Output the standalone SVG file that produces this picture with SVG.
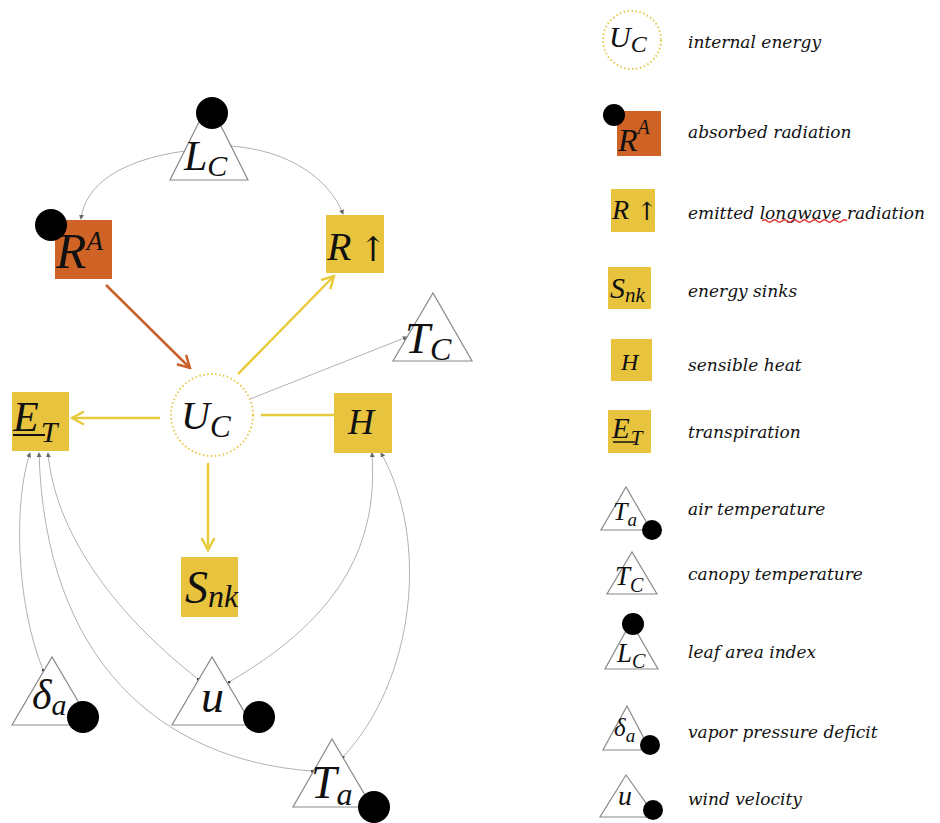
<svg xmlns="http://www.w3.org/2000/svg" width="940" height="823" viewBox="0 0 940 823">
<defs>
<style>
.m{font-style:italic;fill:#111}
.sym{font-style:normal;fill:#111}
.lg{font-style:italic;font-size:17px;fill:#111}
.tri{fill:#fff;stroke:#8a8a8a;stroke-width:1.2}
.dot{fill:#000}
.yb{fill:#E8C33E}
.ob{fill:#CF6325}
.uc{fill:#fff;stroke:#E8C84A;stroke-width:2;stroke-dasharray:1.5 2.5}
.gl{fill:none;stroke:#a8a8a8;stroke-width:0.9}
.yl{fill:none;stroke:#E8CB3C;stroke-width:2.5}
.ol{fill:none;stroke:#C8612A;stroke-width:2.5}
</style>
<marker id="ay" viewBox="0 0 16 16" refX="14" refY="8" markerWidth="16" markerHeight="16" markerUnits="userSpaceOnUse" orient="auto"><path d="M2,1.5 L14,8 L2,14.5" fill="none" stroke="#E8CB3C" stroke-width="2.5"/></marker>
<marker id="ao" viewBox="0 0 16 16" refX="14" refY="8" markerWidth="16" markerHeight="16" markerUnits="userSpaceOnUse" orient="auto"><path d="M2,1.5 L14,8 L2,14.5" fill="none" stroke="#C8612A" stroke-width="2.5"/></marker>
<marker id="ag" viewBox="0 0 6 6" refX="5" refY="3" markerWidth="5" markerHeight="5" markerUnits="userSpaceOnUse" orient="auto"><path d="M0,0 L6,3 L0,6 Z" fill="#666"/></marker>
<marker id="sg" viewBox="0 0 4 4" refX="2" refY="2" markerWidth="3" markerHeight="3" markerUnits="userSpaceOnUse"><circle cx="2" cy="2" r="2" fill="#444"/></marker>
</defs>
<rect width="940" height="823" fill="#fff"/>

<g id="connectors">
<path class="gl" d="M185,151 C120,160 85,185 81,219" marker-start="url(#sg)" marker-end="url(#ag)"/>
<path class="gl" d="M230,146 C290,150 330,180 343,214" marker-start="url(#sg)" marker-end="url(#ag)"/>
<path class="gl" d="M250,399 L407,337" marker-end="url(#ag)"/>
<path class="gl" d="M43,670 C15,600 14,500 30,453" marker-start="url(#sg)" marker-end="url(#ag)"/>
<path class="gl" d="M312,771 C160,760 45,660 39,453" marker-start="url(#sg)" marker-end="url(#ag)"/>
<path class="gl" d="M198,679 C110,610 55,530 48,453" marker-start="url(#sg)" marker-end="url(#ag)"/>
<path class="gl" d="M229,682 C345,615 378,540 372,453" marker-start="url(#sg)" marker-end="url(#ag)"/>
<path class="gl" d="M343,757 C415,680 430,540 381,453" marker-start="url(#sg)" marker-end="url(#ag)"/>
<path class="ol" d="M106,285 L190,368" marker-end="url(#ao)"/>
<path class="yl" d="M160,418 L72,418" marker-end="url(#ay)"/>
<path class="yl" d="M238,374 L334,276" marker-end="url(#ay)"/>
<path class="yl" d="M261,415 L334,415"/>
<path class="yl" d="M208,463 L208,550" marker-end="url(#ay)"/>
</g>

<g font-family="Liberation Serif, DejaVu Serif, serif">
<g id="LC">
<polygon class="tri" points="170,180 248,180 209,102"/>
<text class="m" x="184" y="170" font-size="42">L<tspan font-size="30" dy="6">C</tspan></text>
<circle class="dot" cx="212" cy="113" r="16"/>
</g>
<g id="RA">
<rect class="ob" x="55" y="220" width="57" height="59"/>
<text class="m" x="56" y="268" font-size="50">R<tspan font-size="27" dy="-18">A</tspan></text>
<circle class="dot" cx="51" cy="225" r="16"/>
</g>
<g id="Rup">
<rect class="yb" x="326" y="215" width="58" height="58"/>
<text class="m" x="327" y="260" font-size="40">R</text>
<text class="sym" x="373" y="261" font-size="34" text-anchor="middle" font-family="DejaVu Serif, serif">↑</text>
</g>
<g id="UC">
<circle class="uc" cx="212" cy="415" r="41"/>
<text class="m" x="181" y="429" font-size="40">U<tspan font-size="31" dy="8">C</tspan></text>
</g>
<g id="ET">
<rect class="yb" x="12" y="392" width="57" height="59"/>
<text class="m" x="13" y="431" font-size="42">E<tspan font-size="30" dx="2" dy="11">T</tspan></text>
<line x1="13" y1="435" x2="45" y2="435" stroke="#111" stroke-width="2"/>
</g>
<g id="H">
<rect class="yb" x="334" y="393" width="58" height="60"/>
<text class="m" x="348" y="434" font-size="36">H</text>
</g>
<g id="TC">
<polygon class="tri" points="393,361 472,361 433,293"/>
<text class="m" x="405" y="353" font-size="45">T<tspan font-size="32" dy="7">C</tspan></text>
</g>
<g id="Snk">
<rect class="yb" x="181" y="557" width="57" height="60"/>
<text class="m" x="185" y="603" font-size="46">S<tspan font-size="32" dy="4">nk</tspan></text>
</g>
<g id="deltaa">
<polygon class="tri" points="12,725 92,725 52,657"/>
<text class="m" x="32" y="709" font-size="42">δ<tspan font-size="30" dy="6">a</tspan></text>
<circle class="dot" cx="83" cy="717" r="16"/>
</g>
<g id="u">
<polygon class="tri" points="172,725 252,725 212,657"/>
<text class="m" x="201" y="712" font-size="46">u</text>
<circle class="dot" cx="259" cy="717" r="16"/>
</g>
<g id="Ta">
<polygon class="tri" points="293,807 372,807 332,739"/>
<text class="m" x="311" y="798" font-size="46">T<tspan font-size="32" dy="7">a</tspan></text>
<circle class="dot" cx="374" cy="807" r="16"/>
</g>

<g id="legend">
<g id="lg-UC">
<circle class="uc" cx="632" cy="40" r="29" stroke-width="1.5"/>
<text class="m" x="609" y="47" font-size="30">U<tspan font-size="24" dy="5">C</tspan></text>
<text class="lg" x="688" y="48" font-family="DejaVu Serif, serif">internal energy</text>
</g>
<g id="lg-RA">
<rect class="ob" x="617" y="111" width="44" height="45"/>
<text class="m" x="618" y="151" font-size="32">R<tspan font-size="20" dy="-17">A</tspan></text>
<circle class="dot" cx="614" cy="115" r="11"/>
<text class="lg" x="688" y="138" font-family="DejaVu Serif, serif">absorbed radiation</text>
</g>
<g id="lg-Rup">
<rect class="yb" x="611" y="189" width="44" height="43"/>
<text class="m" x="612" y="219" font-size="28">R</text>
<text class="sym" x="647" y="220" font-size="25" text-anchor="middle" font-family="DejaVu Serif, serif">↑</text>
<text class="lg" x="688" y="219" font-family="DejaVu Serif, serif">emitted longwave radiation</text>
<path d="M762,221 q2.5,-2.5 5,0 t5,0 t5,0 t5,0 t5,0 t5,0 t5,0 t5,0 t5,0 t5,0 t5,0 t5,0 t5,0 t5,0 t5,0 t5,0 t5,0" fill="none" stroke="#e03030" stroke-width="1.3"/>
</g>
<g id="lg-Snk">
<rect class="yb" x="608" y="267" width="43" height="42"/>
<text class="m" x="610" y="298" font-size="30">S<tspan font-size="21" dy="4">nk</tspan></text>
<text class="lg" x="688" y="297" font-family="DejaVu Serif, serif">energy sinks</text>
</g>
<g id="lg-H">
<rect class="yb" x="611" y="339" width="41" height="42"/>
<text class="m" x="621" y="370" font-size="24">H</text>
<text class="lg" x="688" y="371" font-family="DejaVu Serif, serif">sensible heat</text>
</g>
<g id="lg-ET">
<rect class="yb" x="608" y="410" width="43" height="43"/>
<text class="m" x="612" y="438" font-size="29">E<tspan font-size="21" dx="1" dy="7">T</tspan></text>
<line x1="613" y1="442" x2="635" y2="442" stroke="#111" stroke-width="1.5"/>
<text class="lg" x="688" y="438" font-family="DejaVu Serif, serif">transpiration</text>
</g>
<g id="lg-Ta">
<polygon class="tri" points="601,530 651,530 626,487" stroke-width="1"/>
<text class="m" x="613" y="520" font-size="26">T<tspan font-size="19" dy="6">a</tspan></text>
<circle class="dot" cx="652" cy="530" r="10"/>
<text class="lg" x="688" y="515" font-family="DejaVu Serif, serif">air temperature</text>
</g>
<g id="lg-TC">
<polygon class="tri" points="607,594 657,594 632,552" stroke-width="1"/>
<text class="m" x="615" y="585" font-size="27">T<tspan font-size="20" dy="7">C</tspan></text>
<text class="lg" x="688" y="580" font-family="DejaVu Serif, serif">canopy temperature</text>
</g>
<g id="lg-LC">
<polygon class="tri" points="605,669 658,669 631,622" stroke-width="1"/>
<text class="m" x="617" y="662" font-size="27">L<tspan font-size="20" dy="6">C</tspan></text>
<circle class="dot" cx="633" cy="624" r="11"/>
<text class="lg" x="688" y="658" font-family="DejaVu Serif, serif">leaf area index</text>
</g>
<g id="lg-da">
<polygon class="tri" points="603,750 650,750 627,706" stroke-width="1"/>
<text class="m" x="614" y="736" font-size="25">δ<tspan font-size="19" dy="6">a</tspan></text>
<circle class="dot" cx="650" cy="745" r="10"/>
<text class="lg" x="688" y="738" font-family="DejaVu Serif, serif">vapor pressure deficit</text>
</g>
<g id="lg-u">
<polygon class="tri" points="600,817 656,817 626,775" stroke-width="1"/>
<text class="m" x="618" y="805" font-size="28">u</text>
<circle class="dot" cx="653" cy="810" r="10"/>
<text class="lg" x="688" y="805" font-family="DejaVu Serif, serif">wind velocity</text>
</g>
</g>
</g>
</svg>
